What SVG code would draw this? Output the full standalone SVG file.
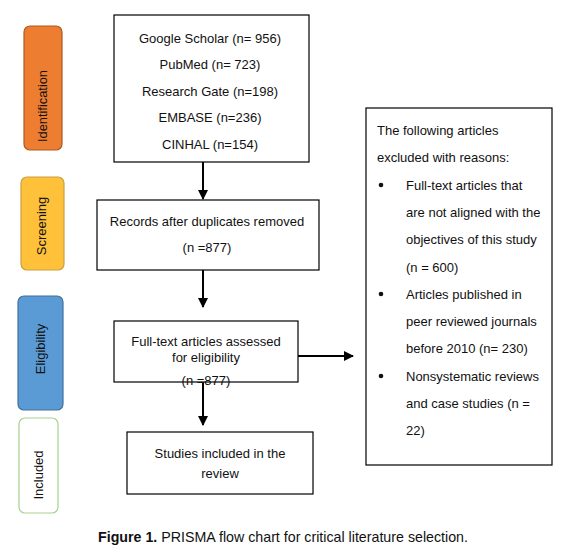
<svg xmlns="http://www.w3.org/2000/svg" width="568" height="553" viewBox="0 0 568 553">
<style>
text{font-family:"Liberation Sans",Arial,sans-serif;font-size:13px;fill:#111}
.c{text-anchor:middle}
.box{fill:#fff;stroke:#000;stroke-width:1.2}
.lab{stroke-width:1.2}
.conn{stroke:#000;stroke-width:2;fill:none}
</style>
<defs>
<marker id="ah" markerWidth="10" markerHeight="10" refX="9" refY="5" orient="auto" markerUnits="userSpaceOnUse">
<path d="M0,0 L10,5 L0,10 z" fill="#000"/>
</marker>
</defs>
<rect width="568" height="553" fill="#fff"/>
<g id="stage-identification">
<rect class="lab" x="24" y="26" width="38" height="124" rx="6" fill="#ED7D31" stroke="#AE5A21"/>
<text class="c" transform="translate(47,106) rotate(-90)" textLength="72" lengthAdjust="spacingAndGlyphs">Identification</text>
</g>
<g id="stage-screening">
<rect class="lab" x="21" y="177" width="43" height="93" rx="6" fill="#FFC03A" stroke="#C9A040"/>
<text class="c" transform="translate(46,226) rotate(-90)">Screening</text>
</g>
<g id="stage-eligibility">
<rect class="lab" x="18" y="296" width="45" height="114" rx="6" fill="#5B9BD5" stroke="#41719C"/>
<text class="c" transform="translate(45,349) rotate(-90)">Eligibility</text>
</g>
<g id="stage-included">
<rect class="lab" x="19" y="418" width="39" height="95" rx="6" fill="#fff" stroke="#A9D18E"/>
<text class="c" transform="translate(43,475) rotate(-90)">Included</text>
</g>
<g id="connectors">
<line class="conn" x1="203" y1="162" x2="203" y2="199" marker-end="url(#ah)"/>
<line class="conn" x1="203" y1="270" x2="203" y2="307" marker-end="url(#ah)"/>
<line class="conn" x1="203" y1="382" x2="203" y2="425" marker-end="url(#ah)"/>
<line class="conn" x1="298" y1="356" x2="353" y2="356" marker-end="url(#ah)"/>
</g>
<g id="sources">
<rect class="box" x="114" y="15" width="195" height="147"/>
<text class="c" x="210" y="43">Google Scholar (n= 956)</text>
<text class="c" x="210" y="69">PubMed (n= 723)</text>
<text class="c" x="210" y="96">Research Gate (n=198)</text>
<text class="c" x="210" y="122">EMBASE (n=236)</text>
<text class="c" x="210" y="149">CINHAL (n=154)</text>
</g>
<g id="screening">
<rect class="box" x="97" y="200" width="222" height="70"/>
<text class="c" x="207" y="226">Records after duplicates removed</text>
<text class="c" x="207" y="252">(n =877)</text>
</g>
<g id="eligibility">
<rect class="box" x="114" y="321" width="184" height="61"/>
<text class="c" x="206" y="346">Full-text articles assessed</text>
<text class="c" x="206" y="362">for eligibility</text>
<text class="c" x="206" y="385">(n =877)</text>
</g>
<g id="included">
<rect class="box" x="127" y="432" width="186" height="62"/>
<text class="c" x="220" y="458">Studies included in the</text>
<text class="c" x="220" y="478">review</text>
</g>
<g id="excluded">
<rect class="box" x="366" y="108" width="186" height="357"/>
<text x="377" y="135">The following articles</text>
<text x="377" y="162">excluded with reasons:</text>
<circle cx="381" cy="185" r="2.3" fill="#111"/>
<text x="406" y="190">Full-text articles that</text>
<text x="406" y="217">are not aligned with the</text>
<text x="406" y="244">objectives of this study</text>
<text x="406" y="272">(n = 600)</text>
<circle cx="381" cy="294" r="2.3" fill="#111"/>
<text x="406" y="299">Articles published in</text>
<text x="406" y="326">peer reviewed journals</text>
<text x="406" y="353">before 2010 (n= 230)</text>
<circle cx="381" cy="376" r="2.3" fill="#111"/>
<text x="406" y="381">Nonsystematic reviews</text>
<text x="406" y="408">and case studies (n =</text>
<text x="406" y="435">22)</text>
</g>
<text x="98" y="542" style="font-size:15px" textLength="370" lengthAdjust="spacingAndGlyphs"><tspan font-weight="bold">Figure 1.</tspan>  PRISMA flow chart for critical literature selection.</text>
</svg>
